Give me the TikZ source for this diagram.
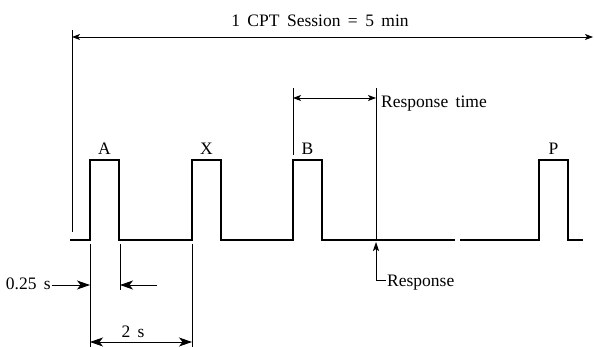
\documentclass[tikz,border=0pt]{standalone}
\usepackage{fontspec}
\setmainfont[WordSpace=1.7]{Liberation Serif}
\usetikzlibrary{arrows.meta}

\tikzset{
  signal/.style={line width=1.8pt,line join=miter},
  dimline/.style={line width=0.8pt},
  bigtip/.style={line width=0.8pt,-{Stealth[length=13pt,width=9pt,inset=3.5pt]}},
  smalltip/.style={line width=0.8pt,{Stealth[length=8pt,width=6pt,inset=2pt]}-{Stealth[length=8pt,width=6pt,inset=2pt]}},
  every node/.style={font=\fontsize{17.5}{20}\selectfont,inner sep=1pt}
}

\begin{document}
\begin{tikzpicture}[x=1pt,y=-1pt]
  \useasboundingbox (0,0) rectangle (594,347);

  % pulse train
  \draw[signal] (70,240)
    foreach \x in {90,192,293} { -- (\x,240) -- (\x,160) -- ++(29,0) -- ++(0,80) }
    -- (455,240);
  \draw[signal] (460,240)
    foreach \x in {539} { -- (\x,240) -- (\x,160) -- ++(29,0) -- ++(0,80) }
    -- (583,240);

  \foreach \x/\l in {90/A,192/X,293/B,539/P}
  { \node[anchor=base] (lab\l) at (\x+14.5,155) {\l}; }

  % session length
  \coordinate (s0) at (72,30);
  \coordinate (s1) at (72,232);
  \coordinate (sa) at (72,37);
  \coordinate (sb) at (593,37);
  \draw[dimline] (s0) -- (s1);
  \draw[smalltip] (sa) -- (sb);
  \node[anchor=base] (session) at (320,27) {1 CPT Session = 5 min};

  % response time
  \coordinate (rb0) at (293,88);
  \coordinate (rb1) at (293,155);
  \coordinate (rr0) at (376,88);
  \coordinate (rr1) at (376,240);
  \draw[dimline] (rb0) -- (rb1);
  \draw[dimline] (rr0) -- (rr1);
  \draw[smalltip] (293,98) coordinate (ta) -- (376,98) coordinate (tb);
  \node[anchor=base west] (rtime) at (380,108) {Response time};

  % response
  \coordinate (rp) at (376,242);
  \coordinate (rc) at (376,280);
  \node[anchor=base west] (resp) at (386,287) {Response};
  \draw[line width=0.8pt,-{Stealth[length=9pt,width=6pt,inset=2pt]}] (resp.west |- rc) -- (rc) -- (rp);

  % 0.25 s
  \coordinate (q0) at (90,244);
  \coordinate (q1) at (90,347);
  \coordinate (w0) at (120,244);
  \coordinate (w1) at (120,290);
  \draw[dimline] (q0) -- (q1);
  \draw[dimline] (w0) -- (w1);
  \node[anchor=base east] (quarter) at (52,290) {0.25 s};
  \coordinate (qa) at (90,285);
  \coordinate (wa) at (120,285);
  \coordinate (wb) at (157,285);
  \draw[bigtip] (quarter.east |- qa) -- (qa);
  \draw[bigtip] (wb) -- (wa);

  % 2 s
  \coordinate (z0) at (192,244);
  \coordinate (z1) at (192,347);
  \draw[dimline] (z0) -- (z1);
  \draw[line width=0.8pt,{Stealth[length=13pt,width=9pt,inset=3.5pt]}-{Stealth[length=13pt,width=9pt,inset=3.5pt]}]
    (90,342) coordinate (ta2) -- (192,342) coordinate (tb2);
  \node[anchor=base] (two) at (133,337) {2 s};
\end{tikzpicture}
\end{document}
